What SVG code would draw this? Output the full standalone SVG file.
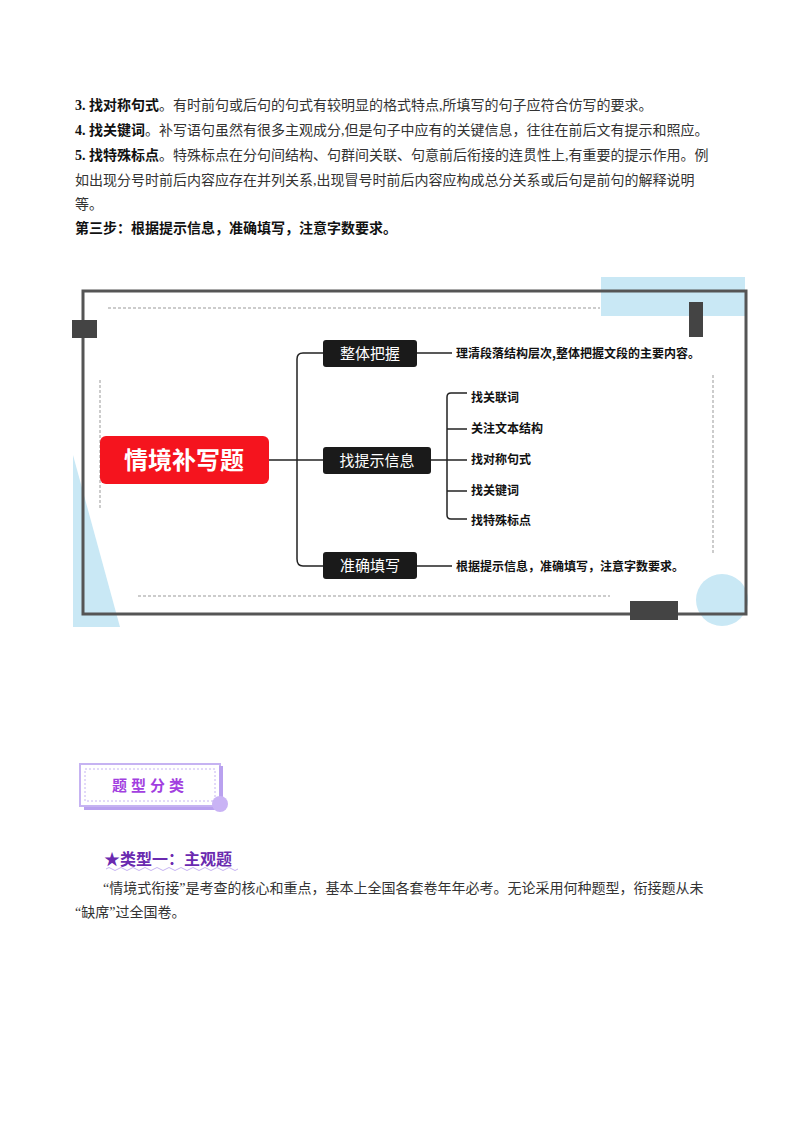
<svg xmlns="http://www.w3.org/2000/svg" width="800" height="1132" viewBox="0 0 800 1132">
<style>
text{font-family:"Liberation Serif","Noto Sans CJK SC",serif;}
.t{font-size:14px;fill:#333}
.b{font-weight:bold;fill:#111}
.nb{fill:#1a1a1a}
.nt{font-family:"Noto Sans CJK SC",sans-serif;font-size:15px;fill:#fff}
.lt{font-family:"Noto Sans CJK SC",sans-serif;font-size:12px;font-weight:bold;fill:#111}
.ln{stroke:#222;stroke-width:1.5;fill:none}
.ds{stroke:#999;stroke-width:1;stroke-dasharray:3,2;fill:none}
</style>
<rect width="800" height="1132" fill="#fff"/>
<text class="t" x="75" y="110"><tspan class="b">3. 找对称句式</tspan>。有时前句或后句的句式有较明显的格式特点,所填写的句子应符合仿写的要求。</text>
<text class="t" x="75" y="135"><tspan class="b">4. 找关键词</tspan>。补写语句虽然有很多主观成分,但是句子中应有的关键信息，往往在前后文有提示和照应。</text>
<text class="t" x="75" y="160"><tspan class="b">5. 找特殊标点</tspan>。特殊标点在分句间结构、句群间关联、句意前后衔接的连贯性上,有重要的提示作用。例</text>
<text class="t" x="75" y="185">如出现分号时前后内容应存在并列关系,出现冒号时前后内容应构成总分关系或后句是前句的解释说明</text>
<text class="t" x="75" y="209">等。</text>
<text class="t b" x="75" y="233">第三步：根据提示信息，准确填写，注意字数要求。</text>

<g id="decor">
<rect x="601" y="277" width="144" height="39" fill="#c9e8f5"/>
<polygon points="73,455 73,627 120,627" fill="#c9e8f5"/>
<circle cx="722" cy="600" r="26" fill="#c9e8f5"/>
<rect x="83" y="291" width="663" height="323" fill="none" stroke="#555" stroke-width="3"/>
<rect x="72" y="320" width="25" height="18" fill="#444"/>
<rect x="689" y="302" width="14" height="35" fill="#444"/>
<rect x="630" y="601" width="48" height="19" fill="#444"/>
<line class="ds" x1="108" y1="308" x2="600" y2="308"/>
<line class="ds" x1="138" y1="596" x2="610" y2="596"/>
<line class="ds" x1="100" y1="380" x2="100" y2="510"/>
<line class="ds" x1="713" y1="375" x2="713" y2="553"/>
</g>
<g id="connectors">
<line class="ln" x1="269" y1="460" x2="323" y2="460"/>
<path class="ln" d="M323 353 H303 Q297 353 297 359 V559 Q297 566 303 566 H323"/>
<line class="ln" x1="417" y1="353" x2="452" y2="353"/>
<line class="ln" x1="417" y1="566" x2="452" y2="566"/>
<line class="ln" x1="431" y1="460" x2="467" y2="460"/>
<path class="ln" d="M467 393 H451 Q447 393 447 397 V515 Q447 519 451 519 H467"/>
<line class="ln" x1="447" y1="429" x2="467" y2="429"/>
<line class="ln" x1="447" y1="491" x2="467" y2="491"/>
</g>
<g id="root"><rect x="100" y="436" width="169" height="48" rx="6" fill="#f5141e"/><text x="184" y="469" text-anchor="middle" font-family="Noto Sans CJK SC,sans-serif" font-size="24" font-weight="bold" fill="#fff">情境补写题</text></g>
<g id="n1"><rect class="nb" x="323" y="340" width="94" height="27" rx="3"/><text class="nt" x="370" y="359" text-anchor="middle">整体把握</text></g>
<g id="n2"><rect class="nb" x="323" y="447" width="108" height="27" rx="3"/><text class="nt" x="377" y="466" text-anchor="middle">找提示信息</text></g>
<g id="n3"><rect class="nb" x="323" y="552" width="94" height="27" rx="3"/><text class="nt" x="370" y="571" text-anchor="middle">准确填写</text></g>
<g id="l1"><text class="lt" x="456" y="358">理清段落结构层次,整体把握文段的主要内容。</text></g>
<g id="l2"><text class="lt" x="456" y="571">根据提示信息，准确填写，注意字数要求。</text></g>
<g id="s1"><text class="lt" x="471" y="402">找关联词</text></g>
<g id="s2"><text class="lt" x="471" y="433">关注文本结构</text></g>
<g id="s3"><text class="lt" x="471" y="464">找对称句式</text></g>
<g id="s4"><text class="lt" x="471" y="495">找关键词</text></g>
<g id="s5"><text class="lt" x="471" y="525">找特殊标点</text></g>

<g id="badge">
<rect x="84" y="786" width="136" height="24" fill="#b9a1ef"/>
<rect x="80" y="764" width="140" height="42" fill="#fff" stroke="#c6b3f2" stroke-width="2"/>
<rect x="85" y="769" width="130" height="32" fill="none" stroke="#c6b3f2" stroke-dasharray="2,2"/>
<rect x="219" y="766" width="4" height="40" fill="#b9a1ef"/>
<circle cx="220" cy="804" r="8" fill="#c9b3f5"/>
<text x="150" y="791" text-anchor="middle" font-family="Noto Sans CJK SC,sans-serif" font-size="15" font-weight="bold" fill="#a23fe0" letter-spacing="4">题型分类</text>
</g>
<text x="104" y="865" font-family="Noto Sans CJK SC,sans-serif" font-size="16" font-weight="bold" fill="#6a2ab0">★类型一：主观题</text>
<path d="M106 869 q3 -3 6 0 t6 0 t6 0 t6 0 t6 0 t6 0 t6 0 t6 0 t6 0 t6 0 t6 0 t6 0 t6 0 t6 0 t6 0 t6 0 t6 0 t6 0 t6 0 t6 0 t6 0 t6 0" stroke="#c6b3f2" fill="none"/>
<text class="t" x="103" y="893">“情境式衔接”是考查的核心和重点，基本上全国各套卷年年必考。无论采用何种题型，衔接题从未</text>
<text class="t" x="75" y="917">“缺席”过全国卷。</text>
</svg>
